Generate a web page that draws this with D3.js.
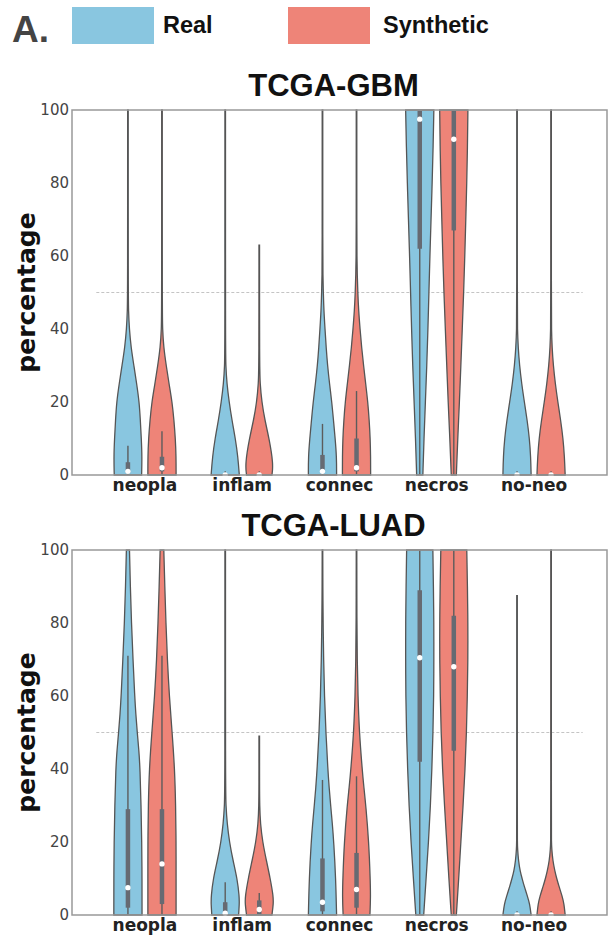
<!DOCTYPE html>
<html>
<head>
<meta charset="utf-8">
<script src="https://cdn.jsdelivr.net/npm/d3@7"></script>
<style>
  body { margin: 0; background: #fff; }
  svg { display: block; }
</style>
</head>
<body>
<svg id="chart" width="608" height="937"></svg>
<script>
// categories, groups and ticks
var categories = ["neopla", "inflam", "connec", "necros", "no-neo"];
var groups = ["Real", "Synthetic"];
var panelTitles = ["TCGA-GBM", "TCGA-LUAD"];
var yTicks = [0, 20, 40, 60, 80, 100];

// relative density profiles [percentage, density], one per category
var gbmRealShape = [
  [[0,.97],[5,1],[10,.95],[15,.88],[20,.8],[25,.62],[30,.42],[35,.22],[40,.1],[45,.04],[50,.02]],
  [[0,1],[5,.9],[10,.72],[15,.48],[20,.28],[25,.12],[30,.04],[35,.02]],
  [[0,1],[5,1],[10,.9],[15,.78],[20,.66],[25,.5],[30,.36],[35,.26],[40,.18],[45,.1],[50,.06],[55,.03],[60,.02]],
  [[0,.22],[10,.3],[20,.4],[30,.5],[40,.58],[50,.65],[60,.72],[70,.8],[80,.88],[90,.95],[100,1]],
  [[0,1],[5,.97],[10,.88],[15,.72],[20,.52],[25,.33],[30,.18],[35,.08],[40,.03],[45,.02]]
];
var gbmSynthShape = [
  [[0,1],[5,1],[10,.95],[15,.85],[20,.72],[25,.5],[30,.3],[35,.12],[40,.04],[45,.02]],
  [[0,.9],[3,1],[10,.7],[15,.4],[20,.18],[25,.06],[30,.02]],
  [[0,1],[5,1],[10,.97],[15,.9],[20,.8],[25,.65],[30,.5],[35,.36],[40,.25],[45,.15],[50,.09],[55,.05],[60,.03],[65,.02]],
  [[0,.18],[10,.28],[20,.4],[30,.5],[40,.6],[50,.7],[60,.78],[70,.85],[80,.92],[90,.97],[100,1]],
  [[0,1],[5,.95],[10,.85],[15,.68],[20,.48],[25,.3],[30,.16],[35,.07],[40,.03],[45,.02]]
];
var luadRealShape = [
  [[0,1],[10,1],[20,.98],[30,.93],[40,.86],[45,.78],[50,.66],[55,.56],[60,.48],[70,.36],[80,.25],[90,.17],[100,.11]],
  [[0,.95],[3,1],[5,1],[10,.85],[15,.55],[20,.3],[25,.14],[30,.05],[35,.02]],
  [[0,1],[10,.94],[20,.8],[25,.7],[30,.58],[35,.47],[40,.38],[50,.24],[60,.14],[70,.08],[80,.045],[90,.025]],
  [[0,.28],[10,.45],[20,.62],[30,.76],[40,.86],[50,.94],[60,.99],[70,1],[80,1],[90,.97],[100,.93]],
  [[0,1],[3,.9],[5,.75],[8,.5],[10,.36],[12,.22],[15,.1],[18,.04],[20,.025],[25,.02]]
];
var luadSynthShape = [
  [[0,1],[10,1],[20,1],[30,.97],[40,.9],[50,.72],[60,.52],[70,.38],[80,.28],[90,.2],[100,.13]],
  [[0,.9],[3,1],[5,1],[10,.78],[15,.5],[20,.24],[25,.08],[30,.03],[35,.02]],
  [[0,.95],[5,1],[10,.97],[20,.87],[30,.66],[35,.52],[40,.4],[50,.2],[60,.1],[70,.05],[80,.025]],
  [[0,.18],[10,.35],[20,.5],[30,.66],[40,.8],[50,.9],[60,.96],[70,1],[80,1],[90,.97],[100,.92]],
  [[0,1],[3,.92],[5,.8],[8,.55],[10,.4],[12,.27],[15,.12],[18,.05],[20,.025],[25,.02]]
];

// top of each violin (max observed value)
var gbmRealMax = [100, 100, 100, 100, 100];
var gbmSynthMax = [100, 63, 100, 100, 100];
var luadRealMax = [100, 100, 100, 100, 87.5];
var luadSynthMax = [100, 49, 100, 100, 100];

// inner box: [whisker low, q1, median, q3, whisker high]
var gbmRealBox = [[0,.5,1,3.5,8],[0,0,0,.5,1],[0,.5,1,5.5,14],[0,62,97.5,100,100],[0,0,0,.3,1]];
var gbmSynthBox = [[0,1,2,5,12],[0,0,0,.5,1],[0,1,2,10,23],[0,67,92,100,100],[0,0,0,.3,1]];
var luadRealBox = [[0,2,7.5,29,71],[0,0,.5,3.5,9],[0,1,3.5,15.5,37],[0,42,70.5,89,100],[0,0,0,.3,1]];
var luadSynthBox = [[0,3,14,29,71],[0,0,1.5,4,6],[0,2,7,17,38],[0,45,68,82,100],[0,0,0,.3,1]];

var colors = ["#89c6e0", "#ee8478"];

var panels = [
  { title: panelTitles[0], top: 110, shapes: [gbmRealShape, gbmSynthShape], maxes: [gbmRealMax, gbmSynthMax], boxes: [gbmRealBox, gbmSynthBox] },
  { title: panelTitles[1], top: 550, shapes: [luadRealShape, luadSynthShape], maxes: [luadRealMax, luadSynthMax], boxes: [luadRealBox, luadSynthBox] }
];

var svg = d3.select("#chart");
var left = 72, right = 607, plotH = 365;
var fontSans = "'Liberation Sans', Arial, sans-serif";
var fontDv = "'DejaVu Sans', sans-serif";

var x = d3.scaleLinear().domain([-0.75, 4.75]).range([left, right]);
var halfW = d3.scaleLinear().domain([0, 1]).range([0, 0.145]);
var dodge = [-0.175, 0.175];

// legend
svg.append("text")
   .attr("x", 12).attr("y", 42)
   .style("font-family", fontSans).style("font-weight", "bold")
   .style("font-size", "37px").style("fill", "#444")
   .text("A.");
var legendX = [[72, 163], [288, 383]];
groups.forEach(function(g, i){
  svg.append("rect")
     .attr("x", legendX[i][0]).attr("y", 7)
     .attr("width", 82).attr("height", 37)
     .style("fill", colors[i]);
  svg.append("text")
     .attr("x", legendX[i][1]).attr("y", 33)
     .style("font-family", fontSans).style("font-weight", "bold")
     .style("font-size", "23.5px").style("fill", "#111")
     .text(g);
});

panels.forEach(function(p){
  var y = d3.scaleLinear().domain([0, 100]).range([p.top + plotH, p.top]);
  var g = svg.append("g");

  // title
  g.append("text")
   .attr("x", (left + right) / 2 - 6).attr("y", p.top - 14)
   .attr("text-anchor", "middle")
   .style("font-family", fontSans).style("font-weight", "bold")
   .style("font-size", "31px").style("fill", "#111")
   .text(p.title);

  // y tick labels
  g.selectAll(".ytick").data(yTicks).enter()
   .append("text")
     .attr("x", left - 3).attr("y", function(d){ return y(d); })
     .attr("dy", "0.36em").attr("text-anchor", "end")
     .style("font-family", fontDv).style("font-size", "15px").style("fill", "#444")
     .text(function(d){ return d; });

  // y label
  g.append("text")
   .attr("transform", "translate(35," + y(50) + ") rotate(-90)")
   .attr("text-anchor", "middle")
   .style("font-family", fontDv).style("font-weight", "bold")
   .style("font-size", "25px").style("fill", "#111")
   .text("percentage");

  // x labels
  g.selectAll(".xlab").data(categories).enter()
   .append("text")
     .attr("x", function(d, i){ return x(i); })
     .attr("y", p.top + plotH + 16)
     .attr("text-anchor", "middle")
     .style("font-family", fontDv).style("font-weight", "bold")
     .style("font-size", "17px").style("fill", "#222")
     .text(function(d){ return d; });

  // dashed reference line at 50
  g.append("line")
   .attr("x1", x(-0.5)).attr("x2", x(4.5))
   .attr("y1", y(50)).attr("y2", y(50))
   .style("stroke", "#c4c4c4").style("stroke-width", 1)
   .style("stroke-dasharray", "3,2");

  // violins
  groups.forEach(function(grp, gi){
    categories.forEach(function(cat, ci){
      var cx = ci + dodge[gi];
      var pts = p.shapes[gi][ci].slice();
      var top = p.maxes[gi][ci];
      var last = pts[pts.length - 1];
      if (last[0] < top) pts.push([top, 0.02]);
      var area = d3.area()
        .curve(d3.curveBasis)
        .y(function(d){ return y(d[0]); })
        .x0(function(d){ return x(cx - halfW(d[1])); })
        .x1(function(d){ return x(cx + halfW(d[1])); });
      g.append("path")
       .attr("d", area(pts))
       .style("fill", colors[gi])
       .style("stroke", "#555")
       .style("stroke-width", 1.3);

      var b = p.boxes[gi][ci];
      g.append("line")
       .attr("x1", x(cx)).attr("x2", x(cx))
       .attr("y1", y(b[0])).attr("y2", y(b[4]))
       .style("stroke", "#5c5c5c").style("stroke-width", 1.4);
      g.append("line")
       .attr("x1", x(cx)).attr("x2", x(cx))
       .attr("y1", y(b[1])).attr("y2", y(b[3]))
       .style("stroke", "#666a72").style("stroke-width", 4.5);
      g.append("circle")
       .attr("cx", x(cx)).attr("cy", y(b[2]))
       .attr("r", 2.7)
       .style("fill", "#fff");
    });
  });

  // frame
  g.append("rect")
   .attr("x", left).attr("y", p.top)
   .attr("width", right - left).attr("height", plotH)
   .style("fill", "none").style("stroke", "#999").style("stroke-width", 1.5);
});
</script>
</body>
</html>
